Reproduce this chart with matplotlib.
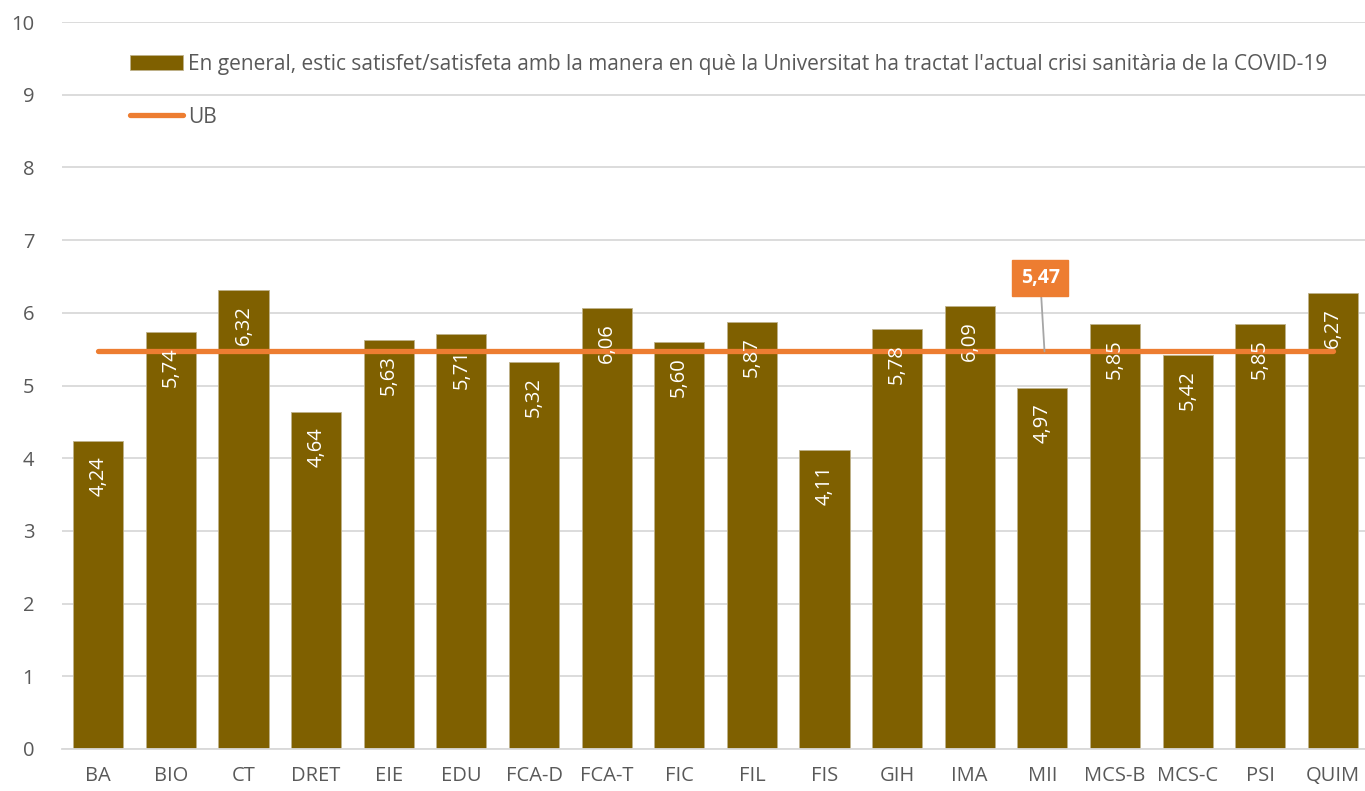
import matplotlib
matplotlib.use("Agg")
import matplotlib.pyplot as plt

categories = ["BA", "BIO", "CT", "DRET", "EIE", "EDU", "FCA-D", "FCA-T", "FIC", "FIL",
              "FIS", "GIH", "IMA", "MII", "MCS-B", "MCS-C", "PSI", "QUIM"]
values = [4.24, 5.74, 6.32, 4.64, 5.63, 5.71, 5.32, 6.06, 5.60, 5.87,
          4.11, 5.78, 6.09, 4.97, 5.85, 5.42, 5.85, 6.27]
ub_value = 5.47
yticks = list(range(0, 11))
bar_label = "En general, estic satisfet/satisfeta amb la manera en què la Universitat ha tractat l'actual crisi sanitària de la COVID-19"
line_label = "UB"

BROWN = "#7F6000"
ORANGE = "#ED7D31"
GREY_TXT = "#595959"
GRID = "#D9D9D9"

plt.rcParams['font.family'] = ['Open Sans', 'DejaVu Sans']

fig = plt.figure(figsize=(13.65, 7.91), dpi=100)
ax = fig.add_axes([62/1365, 42/791, 1 - 62/1365 + 0.003, (749-22)/791])

x = list(range(len(categories)))
bars = ax.bar(x, values, width=0.69, color=BROWN, edgecolor="#BFB28C", linewidth=0.6, zorder=2, label=bar_label)
line, = ax.plot(x, [ub_value]*len(x), color=ORANGE, linewidth=3.8, solid_capstyle='round', zorder=3, label=line_label)

for xi, v in zip(x, values):
    ax.annotate(f"{v:.2f}".replace(".", ","), xy=(xi, v), xytext=(0, -11), textcoords="offset points",
                rotation=90, ha="center", va="top", color="white", fontsize=14.5, zorder=4)

# callout for UB
ax.annotate(f"{ub_value:.2f}".replace(".", ","), xy=(13.03, ub_value), xytext=(12.97, 6.48),
            ha="center", va="center", color="white", fontsize=14, fontweight="bold",
            bbox=dict(boxstyle="square,pad=0.42", fc=ORANGE, ec=ORANGE),
            arrowprops=dict(arrowstyle="-", color="#A6A6A6", lw=1.3, shrinkA=0, shrinkB=0),
            zorder=5)

ax.set_xlim(-0.5, len(categories) - 0.5)
ax.set_ylim(0, 10)
ax.set_yticks(yticks)
ax.set_xticks(x)
ax.set_xticklabels(categories)
ax.tick_params(axis='both', length=0, colors=GREY_TXT, labelsize=14.5)
ax.tick_params(axis='x', pad=12)
ax.tick_params(axis='y', pad=20)
ax.yaxis.grid(True, color=GRID, linewidth=1.3, zorder=0)
ax.set_axisbelow(True)
for s in ["top", "right", "left"]:
    ax.spines[s].set_visible(False)
ax.spines["bottom"].set_color(GRID)
ax.spines["bottom"].set_linewidth(1.3)

leg = ax.legend([bars, line], [bar_label, line_label], loc="upper left",
                bbox_to_anchor=(0.046, 0.968), frameon=False, fontsize=15,
                labelcolor=GREY_TXT, handlelength=2.5, handleheight=0.7, handletextpad=0.25,
                labelspacing=1.54, borderaxespad=0)

fig.savefig("out.png", dpi=100)
